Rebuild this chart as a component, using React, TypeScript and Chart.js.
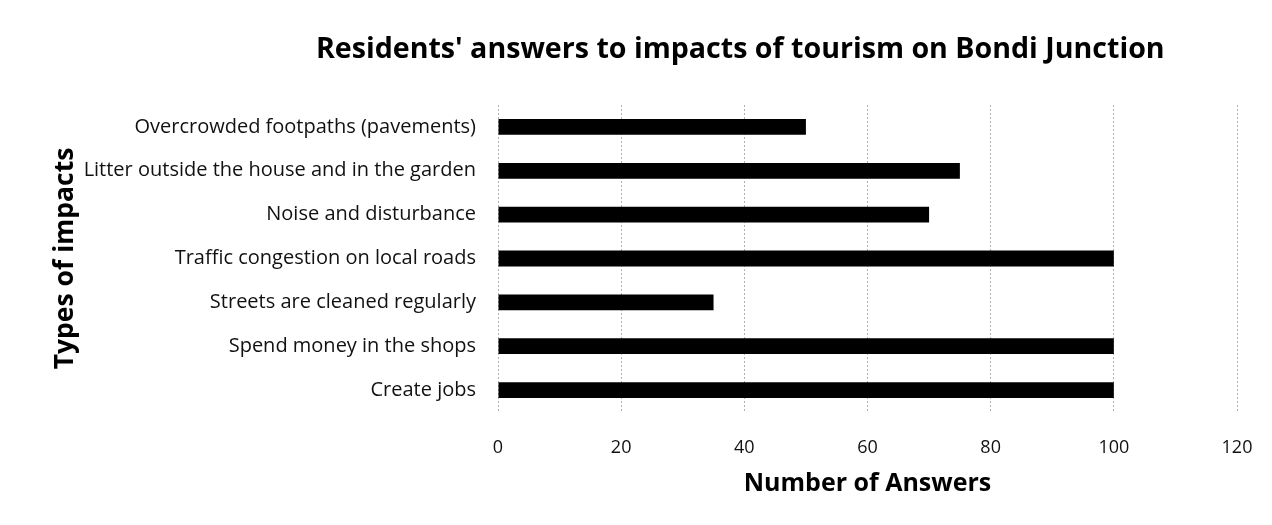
import React, { useEffect, useRef } from "react";
import { Chart, registerables } from "chart.js";

Chart.register(...registerables);

const chartTitle = "Residents' answers to impacts of tourism on Bondi Junction";
const xAxisTitle = "Number of Answers";
const yAxisTitle = "Types of impacts";
const categories = [
  "Overcrowded footpaths (pavements)",
  "Litter outside the house and in the garden",
  "Noise and disturbance",
  "Traffic congestion on local roads",
  "Streets are cleaned regularly",
  "Spend money in the shops",
  "Create jobs",
];
const answers = [50, 75, 70, 100, 35, 100, 100];
const xMin = 0;
const xMax = 120;
const xStep = 20;

const FONT = "'Open Sans', sans-serif";

const titlePlugin = {
  id: "customTitle",
  afterDraw(chart: any) {
    const ctx = chart.ctx;
    ctx.save();
    ctx.font = `bold 28.6px ${FONT}`;
    ctx.fillStyle = "#000";
    ctx.textAlign = "center";
    ctx.textBaseline = "middle";
    ctx.fillText(chartTitle, chart.width * 0.582, 50);
    ctx.restore();
  },
};

export default function App() {
  const ref = useRef<HTMLCanvasElement | null>(null);
  useEffect(() => {
    document.body.style.margin = "0";
    const chart = new Chart(ref.current!, {
      type: "bar",
      data: {
        labels: categories,
        datasets: [
          {
            label: "Answers",
            data: answers,
            backgroundColor: "#000",
            borderWidth: 0,
            barPercentage: 0.36,
            categoryPercentage: 1,
          },
        ],
      },
      options: {
        indexAxis: "y",
        animation: false,
        responsive: false,
        layout: { padding: { left: 30, right: 35, top: 105, bottom: 22 } },
        plugins: {
          legend: { display: false },
          tooltip: { enabled: false },
          title: { display: false },
        },
        scales: {
          x: {
            min: xMin,
            max: xMax,
            ticks: {
              stepSize: xStep,
              padding: 25,
              color: "#111",
              font: { family: FONT, size: 18 },
            },
            grid: {
              color: "#b0b0b0",
              lineWidth: 1,
              drawTicks: false,
            },
            border: { display: false, dash: [2, 2] },
            title: {
              display: true,
              text: xAxisTitle,
              color: "#000",
              font: { family: FONT, size: 25, weight: "bold" },
              padding: { top: 4, bottom: 4 },
            },
            afterFit(scale: any) {
              scale.height = 91;
              scale.paddingLeft = 0;
              scale.paddingRight = 0;
            },
          },
          y: {
            ticks: {
              padding: 22,
              color: "#111",
              font: { family: FONT, size: 20 },
            },
            grid: { display: false, drawTicks: false },
            border: { display: false },
            title: {
              display: true,
              text: yAxisTitle,
              color: "#000",
              font: { family: FONT, size: 26.5, weight: "bold" },
              padding: { top: 20, bottom: 0 },
            },
            afterFit(scale: any) {
              scale.width = 468;
            },
          },
        },
      },
      plugins: [titlePlugin],
    });
    return () => chart.destroy();
  }, []);
  return (
    <div style={{ width: 1272, height: 525 }}>
      <canvas ref={ref} width={1272} height={525} />
    </div>
  );
}
